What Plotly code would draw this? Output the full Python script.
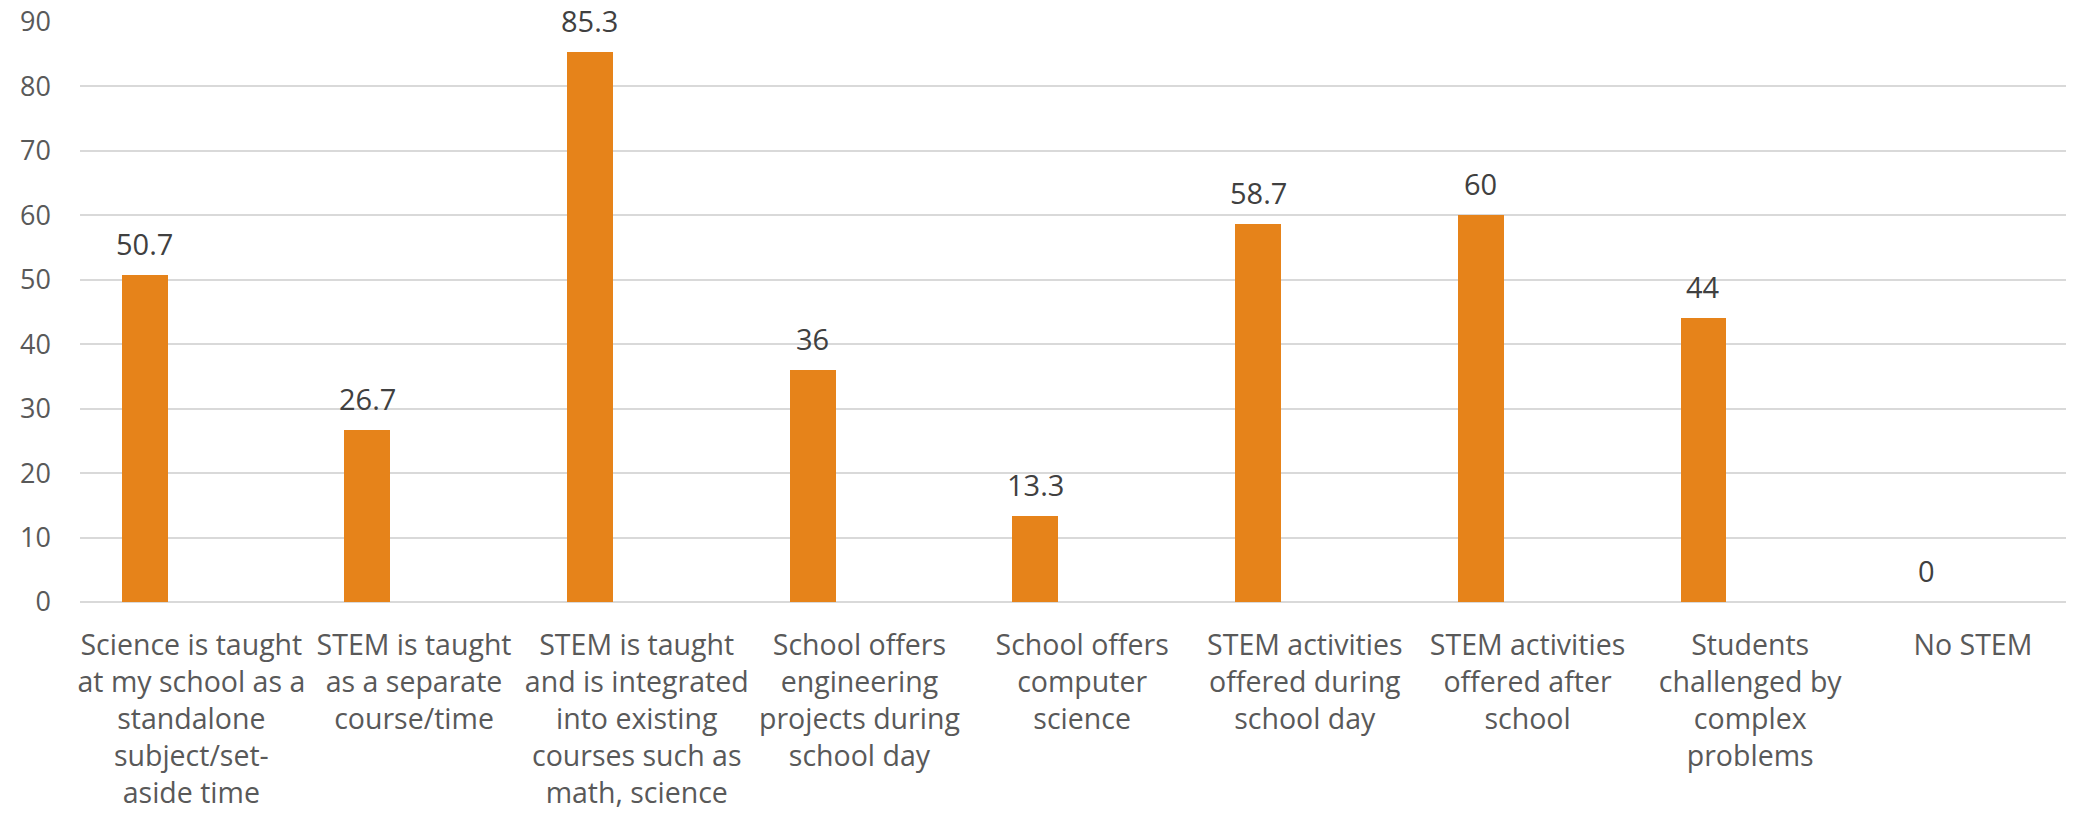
import plotly.graph_objects as go

categories = [
    "Science is taught at my school as a standalone subject/set-aside time",
    "STEM is taught as a separate course/time",
    "STEM is taught and is integrated into existing courses such as math, science",
    "School offers engineering projects during school day",
    "School offers computer science",
    "STEM activities offered during school day",
    "STEM activities offered after school",
    "Students challenged by complex problems",
    "No STEM",
]
tick_labels = [
    "Science is taught<br>at my school as a<br>standalone<br>subject/set-<br>aside time",
    "STEM is taught<br>as a separate<br>course/time",
    "STEM is taught<br>and is integrated<br>into existing<br>courses such as<br>math, science",
    "School offers<br>engineering<br>projects during<br>school day",
    "School offers<br>computer<br>science",
    "STEM activities<br>offered during<br>school day",
    "STEM activities<br>offered after<br>school",
    "Students<br>challenged by<br>complex<br>problems",
    "No STEM",
]
values = [50.7, 26.7, 85.3, 36, 13.3, 58.7, 60, 44, 0]
y_ticks = [0, 10, 20, 30, 40, 50, 60, 70, 80, 90]

FONT = "Open Sans"
BAR_WIDTH = 0.206
BAR_OFFSET = -0.313
PX_PER_CAT = 222.7

fig = go.Figure()
fig.add_trace(go.Bar(
    x=categories,
    y=values,
    width=BAR_WIDTH,
    offset=BAR_OFFSET,
    marker=dict(color="#E6831A", line=dict(width=0)),
    showlegend=False,
    hoverinfo="x+y",
))

# data labels, placed at each bar's value through the axes
label_xshift = (BAR_OFFSET + BAR_WIDTH / 2) * PX_PER_CAT
for c, v in zip(categories, values):
    fig.add_annotation(
        x=c, y=v, xref="x", yref="y",
        text=f"{v:g}",
        showarrow=False,
        xanchor="center", yanchor="bottom",
        xshift=label_xshift, yshift=10,
        font=dict(family=FONT, size=29, color="#404040"),
    )

# page body has an 8px default margin, so the figure is 8px smaller
fig.update_layout(
    width=2066,
    height=805,
    autosize=False,
    margin=dict(l=72, r=0, t=14, b=211, autoexpand=False),
    paper_bgcolor="white",
    plot_bgcolor="white",
    bargap=0,
    font=dict(family=FONT, size=27, color="#595959"),
)
fig.update_xaxes(
    type="category",
    tickvals=categories,
    ticktext=tick_labels,
    range=[-0.5, 8.454],
    automargin=False,
    showgrid=False,
    showline=False,
    zeroline=False,
    ticks="",
    ticklabelstandoff=23,
    ticklabeloverflow="allow",
    tickfont=dict(family=FONT, size=28.5, color="#595959"),
    tickangle=0,
)
fig.update_yaxes(
    range=[0, 90],
    tickvals=y_ticks,
    automargin=False,
    showgrid=True,
    gridcolor="#D9D9D9",
    gridwidth=2,
    zeroline=True,
    zerolinecolor="#D9D9D9",
    zerolinewidth=2,
    showline=False,
    ticks="",
    ticklabelstandoff=28,
    ticklabeloverflow="allow",
    tickfont=dict(family=FONT, size=27, color="#595959"),
)

fig.write_html("out.html")
